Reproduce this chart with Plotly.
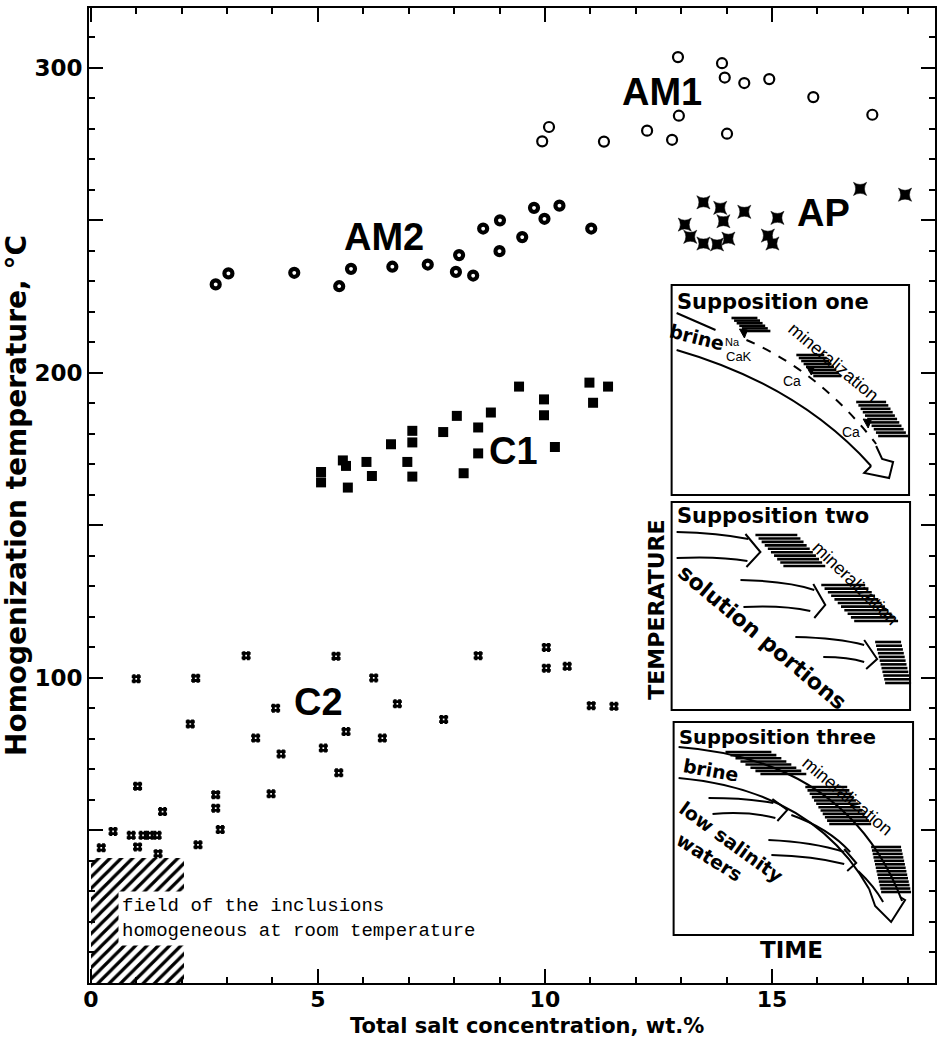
import plotly.graph_objects as go

# ---------------- data ----------------
am1_x = [12.93, 13.90, 13.96, 14.39, 14.94, 15.91, 17.21, 12.95, 10.09, 9.94, 11.30, 12.25, 12.80, 14.01]
am1_y = [303.5, 301.5, 296.8, 295.0, 296.3, 290.4, 284.6, 284.3, 280.6, 275.9, 275.8, 279.4, 276.4, 278.4]

am2_x = [2.75, 3.03, 4.48, 5.47, 5.73, 6.64, 7.42, 8.04, 8.42, 8.11, 8.64, 9.01, 9.00, 9.50, 9.76, 9.99, 10.32, 11.02]
am2_y = [229.0, 232.6, 232.8, 228.4, 234.1, 234.8, 235.5, 233.1, 231.9, 238.6, 247.3, 250.0, 239.9, 244.5, 254.1, 250.5, 254.8, 247.3]

ap_x = [13.49, 13.86, 13.93, 14.39, 13.08, 13.20, 13.49, 13.79, 14.04, 15.12, 14.91, 15.01, 16.94, 17.93]
ap_y = [255.9, 254.1, 249.7, 252.8, 248.6, 244.6, 242.4, 242.1, 244.0, 250.8, 245.0, 242.4, 260.3, 258.4]

c1_x = [5.07, 5.07, 5.55, 5.62, 5.66, 6.07, 6.19, 6.61, 7.08, 7.08, 6.97, 7.08, 7.76, 8.06,
        8.53, 8.81, 8.53, 8.21, 9.43, 9.98, 9.98, 10.22, 10.98, 11.39, 11.06]
c1_y = [167.5, 164.1, 171.3, 169.5, 162.4, 170.8, 166.2, 176.6, 181.0, 177.2, 170.8, 166.0, 180.6, 185.9,
        182.1, 187.0, 173.6, 167.1, 195.5, 191.3, 186.1, 175.7, 196.8, 195.5, 190.2]

c2_x = [1.00, 2.31, 3.42, 5.40, 8.53, 6.23, 4.07, 6.75, 2.19, 7.77, 3.63, 5.62, 6.42, 4.19, 5.12, 5.46,
        1.03, 3.97, 2.75, 2.75, 1.58, 2.85, 0.49, 0.89, 1.15, 1.30, 1.46, 1.03, 0.23, 2.36, 1.48,
        10.03, 10.03, 10.49, 11.02, 11.52]
c2_y = [99.7, 99.9, 107.3, 107.1, 107.3, 100.0, 90.1, 91.5, 84.9, 86.4, 80.3, 82.4, 80.3, 75.1, 77.0, 68.9,
        64.5, 62.0, 61.7, 57.3, 56.2, 50.3, 49.7, 48.4, 48.4, 48.4, 48.4, 44.6, 44.3, 45.3, 42.4,
        110.0, 103.2, 103.8, 90.9, 90.7]

# field of inclusions homogeneous at room temperature
field_x = [1.03]
field_width = [2.06]
field_top = [41]

x_tickvals = [0, 5, 10, 15]
x_ticktext = ["0", "5", "10", "15"]
y_tickvals = [50, 100, 150, 200, 250, 300]
y_ticktext = ["", "100", "", "200", "", "300"]

group_labels = ["AM1", "AM2", "AP", "C1", "C2"]
group_label_x = [12.57, 6.46, 16.13, 9.30, 5.01]
group_label_y = [292.1, 244.4, 252.5, 174.3, 92.1]

BOLD = "Liberation Sans, Arial, sans-serif"
WIDE = "DejaVu Sans, Verdana, sans-serif"
MONO = "Liberation Mono, Courier New, monospace"

fig = go.Figure()

fig.add_trace(go.Bar(x=field_x, y=field_top, width=field_width, base=0,
                     marker=dict(color="white", line=dict(width=0),
                                 pattern=dict(shape="/", fgcolor="black", bgcolor="white",
                                              fgopacity=1, size=8, solidity=0.4)),
                     hoverinfo="skip"))

fig.add_trace(go.Scatter(x=am1_x, y=am1_y, mode="markers",
                         marker=dict(symbol="circle-open", size=10, color="black", line=dict(width=2.2))))
fig.add_trace(go.Scatter(x=am2_x, y=am2_y, mode="markers",
                         marker=dict(symbol="circle-open", size=8, color="black", line=dict(width=4.2))))
fig.add_trace(go.Scatter(x=ap_x, y=ap_y, mode="markers",
                         marker=dict(symbol="star-square", size=12, color="black", line=dict(width=0.5, color="black"))))
fig.add_trace(go.Scatter(x=c1_x, y=c1_y, mode="markers",
                         marker=dict(symbol="square", size=10, color="black", line=dict(width=0))))
fig.add_trace(go.Scatter(x=c2_x, y=c2_y, mode="markers",
                         marker=dict(symbol="hash", size=9, color="black", line=dict(width=2.8, color="black"))))

for t, x, y in zip(group_labels, group_label_x, group_label_y):
    fig.add_annotation(x=x, y=y, text=t, showarrow=False,
                       font=dict(family=BOLD, size=38, color="black", weight="bold"))

fig.add_annotation(x=0.6, y=21, xanchor="left", yanchor="middle", align="left",
                   text="field of the inclusions<br>homogeneous at room temperature",
                   showarrow=False, bgcolor="white", borderpad=3,
                   font=dict(family=MONO, size=19, color="black"))

# ---------------- inset diagrams (pixel helper) ----------------
L, R, T, B = 89, 937, 8, 983


def px(x):
    return (x - L) / (R - L)


def py(y):
    return (B - y) / (B - T)


def P(*items):
    out = []
    for it in items:
        if isinstance(it, str):
            out.append(it)
        else:
            out.append(f"{px(it[0]):.5f},{py(it[1]):.5f}")
    return " ".join(out)


shapes = []


def line_path(p, width=2, dash="solid", fill=None):
    d = dict(type="path", path=p, xref="paper", yref="paper",
             line=dict(color="black", width=width, dash=dash))
    if fill:
        d["fillcolor"] = fill
    shapes.append(d)


def box(x0, y0, x1, y1):
    shapes.append(dict(type="rect", xref="paper", yref="paper",
                       x0=px(x0), x1=px(x1), y0=py(y1), y1=py(y0),
                       line=dict(color="black", width=2), fillcolor="white", layer="above"))


def band(xs, ys, xe, ye, w, n):
    for k in range(n):
        t = k / (n - 1)
        x = xs + (xe - w - xs) * t
        y = ys + (ye - ys) * t
        shapes.append(dict(type="line", xref="paper", yref="paper",
                           x0=px(x), x1=px(x + w), y0=py(y), y1=py(y),
                           line=dict(color="black", width=2.6)))


def txt(x, y, s, size, angle=0, bold=False, xanchor="center", family=BOLD):
    fig.add_annotation(x=px(x), y=py(y), xref="paper", yref="paper", text=s, showarrow=False,
                       textangle=angle, xanchor=xanchor, yanchor="middle",
                       font=dict(family=family, size=size, color="black",
                                 weight="bold" if bold else "normal"))


def tri(x, y):
    line_path(P("M", (x - 4, y - 4), "L", (x + 4, y - 3), "L", (x + 1, y + 5), "Z"), width=1, fill="black")


# boxes
box(673, 285, 911, 495)
box(673, 502, 912, 710)
box(675, 722, 915, 935)

# ---- supposition one ----
band(733, 318, 772, 331, 26, 6)
band(798, 355, 843, 376, 28, 8)
band(858, 402, 910, 436, 30, 11)
line_path(P("M", (678, 313), "L", (717, 330)))
line_path(P("M", (748, 340), "Q", (822, 372), (878, 444)), width=2, dash="dash")
tri(745, 333)
tri(812, 370)
tri(869, 423)
line_path(P("M", (678, 350), "Q", (800, 385), (873, 466)))
line_path(P("M", (878, 446), "L", (884, 459), "L", (895, 462), "L", (891, 478),
            "L", (866, 473), "L", (873, 466)))
txt(676, 302, "Supposition one", 21, bold=True, xanchor="left", family=WIDE)
txt(698, 337, "brine", 19, angle=14, bold=True, family=WIDE)
txt(734, 342, "Na", 11)
txt(741, 356, "CaK", 13)
txt(794, 381, "Ca", 14)
txt(853, 432, "Ca", 14)
txt(835, 362, "mineralization", 18, angle=40)

# ---- supposition two ----
band(757, 535, 827, 566, 42, 10)
band(823, 585, 900, 621, 44, 11)
band(877, 642, 913, 683, 26, 12)
line_path(P("M", (678, 532), "Q", (720, 533), (750, 539)))
line_path(P("M", (678, 558), "Q", (720, 556), (749, 561)))
line_path(P("M", (747, 534), "L", (762, 552), "L", (748, 567)))
line_path(P("M", (742, 580), "Q", (790, 581), (816, 590)))
line_path(P("M", (745, 607), "Q", (785, 605), (812, 611)))
line_path(P("M", (815, 584), "L", (827, 605), "L", (816, 618)))
line_path(P("M", (797, 637), "Q", (840, 638), (866, 645)))
line_path(P("M", (825, 657), "Q", (850, 657), (866, 662)))
line_path(P("M", (866, 640), "L", (879, 659), "L", (868, 669)))
txt(676, 516, "Supposition two", 21, bold=True, xanchor="left", family=WIDE)
txt(857, 583, "mineralization", 18, angle=44)
txt(764, 638, "solution portions", 22, angle=40, bold=True, family=WIDE)
txt(657, 610, "TEMPERATURE", 22, angle=-90, bold=True, family=WIDE)

# ---- supposition three ----
band(727, 752, 808, 774, 46, 8)
band(807, 787, 873, 824, 42, 12)
band(873, 847, 913, 892, 30, 14)
line_path(P("M", (680, 747), "Q", (850, 760), (904, 901)))
line_path(P("M", (680, 778), "Q", (815, 790), (871, 889)))
line_path(P("M", (871, 889), "L", (877, 906), "L", (893, 922), "L", (907, 900), "L", (902, 897)))
line_path(P("M", (710, 798), "Q", (748, 798), (775, 803)))
line_path(P("M", (714, 814), "Q", (750, 811), (777, 818)))
line_path(P("M", (774, 799), "L", (789, 810), "L", (779, 821)))
line_path(P("M", (793, 815), "Q", (830, 828), (852, 852)))
line_path(P("M", (770, 840), "Q", (815, 842), (846, 852)))
line_path(P("M", (773, 855), "Q", (815, 856), (846, 864)))
line_path(P("M", (846, 849), "L", (858, 863), "L", (849, 871)))
line_path(P("M", (860, 871), "Q", (876, 886), (885, 902)))
txt(678, 737, "Supposition three", 19.5, bold=True, xanchor="left", family=WIDE)
txt(712, 770, "brine", 19, angle=10, bold=True, family=WIDE)
txt(733, 842, "low salinity", 19, angle=36, bold=True, family=WIDE)
txt(711, 857, "waters", 19, angle=32, bold=True, family=WIDE)
txt(849, 796, "mineralization", 18, angle=40)
txt(793, 950, "TIME", 23, bold=True, family=WIDE)

# x axis title as an annotation (centred slightly right of the plot centre, as in the figure)
fig.add_annotation(x=px(528), y=py(1039), xref="paper", yref="paper", showarrow=False,
                   text="Total salt concentration, wt.%", xanchor="center", yanchor="bottom",
                   borderpad=0,
                   font=dict(family=WIDE, size=21, color="black", weight="bold"))

fig.update_layout(
    width=942, height=1040,
    margin=dict(l=L, r=942 - R, t=T, b=1040 - B),
    paper_bgcolor="white", plot_bgcolor="white",
    showlegend=False,
    shapes=shapes,
    bargap=0,
)

fig.update_xaxes(
    range=[-0.04, 18.59], showgrid=False, zeroline=False,
    showline=True, linecolor="black", linewidth=2, mirror="ticks",
    ticks="inside", ticklen=14, tickwidth=1.5, tickcolor="black",
    tickvals=x_tickvals, ticktext=x_ticktext, ticklabelstandoff=-4,
    tickfont=dict(family=WIDE, size=22, color="black", weight="bold"),
    minor=dict(dtick=1, ticks="inside", ticklen=6, tickwidth=1.5, tickcolor="black"),
)
fig.update_yaxes(
    range=[0, 319.6], showgrid=False, zeroline=False,
    showline=True, linecolor="black", linewidth=2, mirror="ticks",
    ticks="inside", ticklen=14, tickwidth=1.5, tickcolor="black",
    tickvals=y_tickvals, ticktext=y_ticktext,
    tickfont=dict(family=WIDE, size=23, color="black", weight="bold"),
    minor=dict(dtick=10, ticks="inside", ticklen=6, tickwidth=1.5, tickcolor="black"),
    title=dict(text="Homogenization temperature, °C", standoff=4,
               font=dict(family=WIDE, size=28, color="black", weight="bold")),
)

fig.write_html("out.html")
